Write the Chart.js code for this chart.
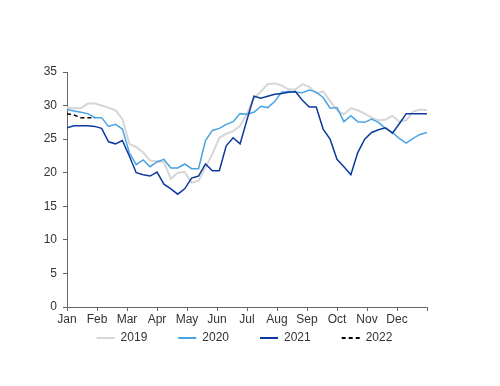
<!DOCTYPE html>
<html>
<head>
<meta charset="utf-8">
<script src="https://cdn.jsdelivr.net/npm/chart.js@4/dist/chart.umd.min.js"></script>
<style>
    html, body { margin: 0; padding: 0; background: #fff; }
    #wrap { width: 500px; height: 386px; position: relative; }
</style>
</head>
<body>
<div id="wrap"><canvas id="chartLine"></canvas></div>
<script>
// month tick labels (last tick closes the year, no label)
const monthLabels = ['Jan', 'Feb', 'Mar', 'Apr', 'May', 'Jun', 'Jul', 'Aug', 'Sep', 'Oct', 'Nov', 'Dec', ''];
const yearLabels = ['2019', '2020', '2021', '2022'];

// weekly values, week 0..52
const values2019 = [29.7, 29.6, 29.6, 30.3, 30.3, 30.0, 29.7, 29.3, 28.0, 24.3, 23.8, 23.0, 21.8, 21.7, 21.6, 19.1, 20.0, 20.1, 18.5, 18.8,
    20.8, 22.8, 25.2, 25.8, 26.2, 27.0, 28.8, 31.1, 32.1, 33.2, 33.3, 33.0, 32.4, 32.4, 33.2, 32.8, 31.8, 32.1, 30.7, 29.3,
    28.7, 29.6, 29.3, 28.8, 28.2, 27.8, 27.9, 28.5, 27.6, 27.8, 29.1, 29.4, 29.3];
const values2020 = [29.4, 29.2, 29.0, 28.8, 28.2, 28.2, 26.9, 27.2, 26.5, 23.0, 21.2, 21.9, 20.9, 21.6, 22.0, 20.7, 20.7, 21.3, 20.6, 20.6,
    24.8, 26.3, 26.6, 27.2, 27.6, 28.8, 28.7, 29.0, 29.9, 29.7, 30.6, 32.0, 32.1, 32.0, 31.9, 32.3, 32.0, 31.2, 29.6, 29.7,
    27.6, 28.5, 27.6, 27.5, 28.0, 27.5, 26.6, 26.0, 25.1, 24.4, 25.1, 25.7, 26.0];
const values2021 = [26.7, 27.0, 27.0, 27.0, 26.9, 26.6, 24.6, 24.3, 24.8, 22.5, 20.0, 19.7, 19.5, 20.1, 18.3, 17.6, 16.8, 17.6, 19.2, 19.5,
    21.3, 20.3, 20.3, 24.0, 25.2, 24.3, 27.9, 31.4, 31.1, 31.4, 31.7, 31.8, 32.0, 32.1, 30.8, 29.8, 29.8, 26.5, 25.0, 22.0,
    20.9, 19.7, 23.0, 25.0, 26.0, 26.4, 26.7, 25.9, 27.3, 28.8, 28.8, 28.8, 28.8];
const values2022 = [28.8, 28.6, 28.2, 28.2, 28.2];

const weeksInYear = 52;

function toPoints(arr) {
    return arr.map(function (v, i) { return { x: i, y: v }; });
}

const axisColor = '#666666';
const textColor = '#333333';

const data = {
    datasets: [
        {
            label: yearLabels[0],
            data: toPoints(values2019),
            borderColor: '#d6d6d6',
            backgroundColor: '#d6d6d6',
            borderWidth: 2,
            order: 4,
        },
        {
            label: yearLabels[1],
            data: toPoints(values2020),
            borderColor: '#4aa3e2',
            backgroundColor: '#4aa3e2',
            borderWidth: 1.5,
            order: 3,
        },
        {
            label: yearLabels[2],
            data: toPoints(values2021),
            borderColor: '#0c3a9c',
            backgroundColor: '#0c3a9c',
            borderWidth: 1.5,
            order: 2,
        },
        {
            label: yearLabels[3],
            data: toPoints(values2022),
            borderColor: '#000000',
            backgroundColor: '#000000',
            borderWidth: 1.5,
            borderDash: [4, 3],
            order: 1,
        }
    ],
};

// legend sits centred on the page, closer to the axis than chart.js puts it
const legendShift = {
    id: 'legendShift',
    afterLayout: function (chart) {
        const lg = chart.legend;
        lg.top -= 28;
        lg.bottom -= 28;
        lg.left += 31;
        lg.right += 31;
    }
};

const configLineChart = {
    type: 'line',
    data: data,
    plugins: [legendShift],
    options: {
        responsive: true,
        maintainAspectRatio: false,
        animation: false,
        elements: {
            point: { radius: 0 },
            line: { tension: 0 },
        },
        layout: {
            padding: { left: 0, right: 73, top: 72, bottom: 4 },
        },
        scales: {
            x: {
                type: 'linear',
                min: 0,
                max: weeksInYear,
                afterBuildTicks: function (scale) {
                    scale.ticks = monthLabels.map(function (_, m) {
                        return { value: m * weeksInYear / 12 };
                    });
                },
                afterFit: function (scale) { scale.height = 22; },
                grid: {
                    drawOnChartArea: false,
                    drawTicks: true,
                    tickLength: 4,
                    color: axisColor,
                },
                border: { color: axisColor, width: 1 },
                ticks: {
                    autoSkip: false,
                    maxRotation: 0,
                    padding: 1,
                    color: textColor,
                    font: { family: 'Liberation Sans', size: 12 },
                    callback: function (val, idx) { return monthLabels[idx]; },
                },
            },
            y: {
                min: 0,
                max: 35,
                afterFit: function (scale) { scale.width = 67; },
                grid: {
                    drawOnChartArea: false,
                    drawTicks: true,
                    tickLength: 4,
                    color: axisColor,
                },
                border: { color: axisColor, width: 1 },
                ticks: {
                    stepSize: 5,
                    padding: 6,
                    color: textColor,
                    font: { family: 'Liberation Sans', size: 12 },
                },
            },
        },
        plugins: {
            tooltip: { enabled: false },
            legend: {
                position: 'bottom',
                labels: {
                    usePointStyle: true,
                    pointStyle: 'line',
                    pointStyleWidth: 18,
                    padding: 31,
                    color: textColor,
                    font: { family: 'Liberation Sans', size: 12 },
                    sort: function (a, b) { return a.datasetIndex - b.datasetIndex; },
                    generateLabels: function (chart) {
                        const items = Chart.defaults.plugins.legend.labels.generateLabels(chart);
                        items.forEach(function (item) {
                            const ds = chart.data.datasets[item.datasetIndex];
                            item.lineDash = ds.borderDash || [];
                            item.lineWidth = 2;
                            item.strokeStyle = ds.borderColor;
                        });
                        return items;
                    },
                },
            },
        },
    },
};

var chartLine = new Chart(
    document.getElementById('chartLine'),
    configLineChart
);
</script>
</body>
</html>
